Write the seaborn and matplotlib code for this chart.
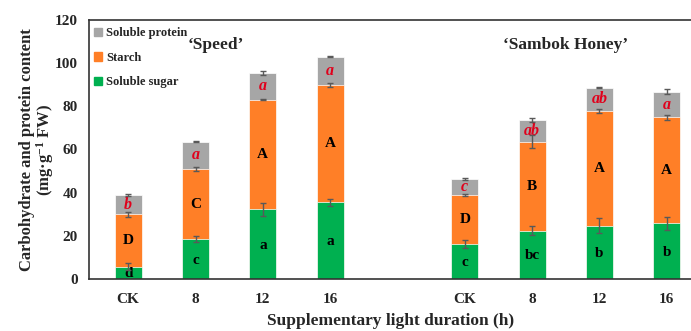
import numpy as np
import pandas as pd
import matplotlib.pyplot as plt
import seaborn as sns
from matplotlib.patches import Patch

# data
cultivars = ["'Speed'", "'Sambok Honey'"]
treatments = ["CK", "8", "12", "16"]
positions = [0, 1, 2, 3, 5, 6, 7, 8]
tick_labels = ["CK", "8", "12", "16", "CK", "8", "12", "16"]

sugar = [5.8, 18.4, 32.4, 35.5, 16.1, 22.4, 24.7, 25.8]
starch = [24.2, 32.6, 50.6, 54.4, 22.8, 41.2, 53.1, 49.0]
protein = [8.9, 12.6, 12.5, 13.1, 7.4, 10.1, 10.7, 12.0]

sugar_err = [1.4, 1.4, 3.0, 1.5, 1.8, 2.0, 3.5, 3.0]
starch_err = [1.1, 1.1, 0.2, 1.0, 0.5, 2.9, 1.0, 1.3]
protein_err = [0.3, 0.3, 1.0, 0.2, 0.6, 0.9, 0.2, 1.1]

sugar_letters = ["d", "c", "a", "a", "c", "bc", "b", "b"]
starch_letters = ["D", "C", "A", "A", "D", "B", "A", "A"]
protein_letters = ["b", "a", "a", "a", "c", "ab", "ab", "a"]

c_sugar = "#00B050"
c_starch = "#FF7F27"
c_protein = "#A6A6A6"

sns.set_style("white")
plt.rcParams["font.family"] = ["Liberation Serif", "DejaVu Serif"]
plt.rcParams["font.weight"] = "bold"
plt.rcParams["axes.labelweight"] = "bold"
plt.rcParams["mathtext.fontset"] = "custom"
plt.rcParams["mathtext.rm"] = "Liberation Serif:bold"
plt.rcParams["mathtext.bf"] = "Liberation Serif:bold"
plt.rcParams["mathtext.default"] = "bf"

df = pd.DataFrame({"pos": positions, "sugar": sugar, "starch": starch, "protein": protein})
df["top_sugar"] = df["sugar"]
df["top_starch"] = df["sugar"] + df["starch"]
df["top_protein"] = df["top_starch"] + df["protein"]

fig = plt.figure(figsize=(6.91, 3.31), dpi=100)
ax = fig.add_axes([0.129, 0.157, 0.871, 0.783])

for col, color in [("top_protein", c_protein), ("top_starch", c_starch), ("top_sugar", c_sugar)]:
    sns.barplot(data=df, x="pos", y=col, native_scale=True, width=0.4, color=color,
                saturation=1, edgecolor="white", linewidth=0.5, ax=ax, errorbar=None)

for col, err in [("top_sugar", sugar_err), ("top_starch", starch_err), ("top_protein", protein_err)]:
    ax.errorbar(df["pos"], df[col], yerr=err, fmt="none", ecolor="#595959",
                elinewidth=1, capsize=2, capthick=1, zorder=5)

for i, p in enumerate(positions):
    s0 = df["top_sugar"][i]
    s1 = df["top_starch"][i]
    s2 = df["top_protein"][i]
    ax.text(p, s0 / 2 - 0.5, sugar_letters[i], ha="center", va="center", fontsize=11, color="black")
    ax.text(p, (s0 + s1) / 2, starch_letters[i], ha="center", va="center", fontsize=11, color="black")
    ax.text(p, (s1 + s2) / 2, protein_letters[i], ha="center", va="center", fontsize=11.5,
            color="#E0001B", style="italic")

ax.text(1.3, 108.5, "\u2018Speed\u2019", ha="center", va="center", fontsize=12.5)
ax.text(6.5, 108.5, "\u2018Sambok Honey\u2019", ha="center", va="center", fontsize=12.5)

ax.set_xlim(-0.58, 8.36)
ax.set_ylim(0, 120)
ax.set_yticks(range(0, 121, 20))
ax.set_xticks(positions)
ax.set_xticklabels(tick_labels)
ax.tick_params(axis="y", direction="out", length=3, width=1, labelsize=11, pad=5)
ax.tick_params(axis="x", length=0, labelsize=11, pad=10)
for side in ["left", "bottom", "top"]:
    ax.spines[side].set_color("#333333")
    ax.spines[side].set_linewidth(1.2)
ax.spines["right"].set_visible(False)

ax.set_xlabel("Supplementary light duration (h)", fontsize=12.5, labelpad=5)
ax.set_ylabel("Carbohydrate and protein content\n(mg\u00b7g$^{-1}$ FW)", fontsize=12,
              linespacing=0.95)
ax.yaxis.set_label_coords(-0.055, 0.5)

handles = [Patch(color=c_protein, label="Soluble protein"),
           Patch(color=c_starch, label="Starch"),
           Patch(color=c_sugar, label="Soluble sugar")]
ax.legend(handles=handles, loc="upper left", frameon=False, fontsize=9,
          handlelength=0.7, handleheight=0.7, handletextpad=0.3, labelspacing=1.0,
          borderaxespad=0.2, bbox_to_anchor=(-0.005, 1.0))

fig.savefig("out.png", dpi=100)
